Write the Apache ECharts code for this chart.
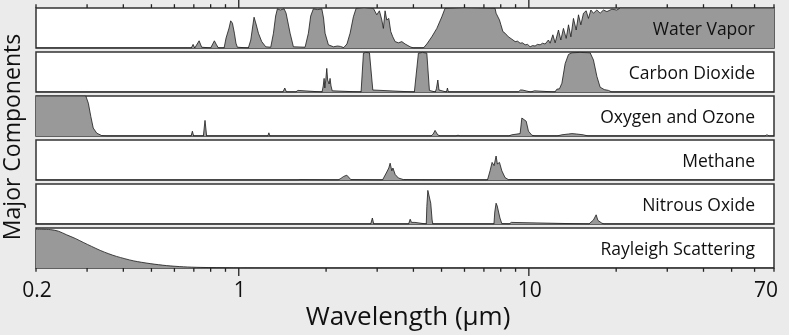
<!DOCTYPE html>
<html>
<head>
<meta charset="utf-8">
<script src="https://cdn.jsdelivr.net/npm/echarts@6/dist/echarts.min.js"></script>
<style>
  html, body { margin: 0; padding: 0; background: #ebebeb; }
  #chart { width: 789px; height: 335px; }
</style>
</head>
<body>
<div id="chart"></div>
<script>
// Panel names, top to bottom
const components = ['Water Vapor', 'Carbon Dioxide', 'Oxygen and Ozone', 'Methane', 'Nitrous Oxide', 'Rayleigh Scattering'];

// Absorption spectra: [wavelength (µm), relative absorption 0..1]
const waterVapor = [
  [0.2, 0], [0.585, 0], [0.594, 0.03], [0.603, 0], [0.648, 0], [0.653, 0.02], [0.658, 0],
  [0.686, 0], [0.696, 0.09], [0.705, 0], [0.715, 0.02], [0.73, 0.18], [0.745, 0.02],
  [0.8, 0], [0.812, 0.05], [0.824, 0.18], [0.838, 0.08], [0.851, 0],
  [0.89, 0], [0.904, 0.25], [0.914, 0.27], [0.926, 0.5], [0.938, 0.68], [0.951, 0.62],
  [0.966, 0.37], [0.978, 0.12], [0.989, 0.02], [1.079, 0], [1.1, 0.2], [1.115, 0.5],
  [1.129, 0.77], [1.147, 0.6], [1.169, 0.37], [1.2, 0.16], [1.239, 0.03], [1.289, 0.02],
  [1.317, 0.37], [1.34, 0.8], [1.359, 0.98], [1.39, 0.95], [1.433, 0.98], [1.456, 0.87],
  [1.503, 0.37], [1.543, 0.03], [1.693, 0.02], [1.738, 0.37], [1.77, 0.8], [1.808, 0.98],
  [1.87, 0.96], [1.933, 0.98], [1.96, 0.75], [1.984, 0.37], [2.037, 0.08], [2.12, 0.03],
  [2.188, 0.05], [2.21, 0.02], [2.24, 0.04], [2.3, 0.01], [2.36, 0.1], [2.42, 0.37],
  [2.484, 0.78], [2.538, 0.99], [2.7, 1], [2.911, 0.99], [2.951, 0.91], [2.991, 0.83],
  [3.054, 0.93], [3.113, 0.7], [3.152, 0.49], [3.194, 0.93], [3.238, 0.7], [3.29, 0.74],
  [3.342, 0.41], [3.396, 0.28], [3.46, 0.16], [3.552, 0.13], [3.648, 0.16], [3.746, 0.1],
  [3.898, 0.03], [4.0, 0], [4.33, 0], [4.45, 0.1], [4.628, 0.28], [4.817, 0.49],
  [5.012, 0.78], [5.14, 0.99], [6.0, 1], [7.65, 0.99], [7.71, 0.87], [7.79, 0.9],
  [7.92, 0.7], [8.01, 0.58], [8.14, 0.41], [8.21, 0.45], [8.28, 0.37], [8.4, 0.33],
  [8.5, 0.28], [8.62, 0.3], [8.74, 0.22], [8.85, 0.24], [8.97, 0.16], [9.15, 0.17],
  [9.33, 0.12], [9.5, 0.13], [9.71, 0.08], [9.9, 0.09], [10.1, 0.03], [10.3, 0.06],
  [10.51, 0.05], [10.7, 0.09], [10.94, 0.08], [11.15, 0.12], [11.38, 0.1], [11.68, 0.2],
  [11.84, 0.12], [12.1, 0.33], [12.32, 0.13], [12.65, 0.45], [12.89, 0.2], [13.16, 0.49],
  [13.45, 0.24], [13.7, 0.58], [13.96, 0.28], [14.25, 0.74], [14.56, 0.45], [14.83, 0.83],
  [15.11, 0.58], [15.43, 0.87], [15.76, 0.93], [16.05, 0.74], [16.36, 0.95], [16.7, 0.87],
  [17.16, 0.95], [17.61, 0.87], [18.08, 0.95], [18.58, 0.91], [19.33, 0.97], [20.11, 0.95],
  [20.64, 1], [70, 1]
];

const carbonDioxide = [
  [0.2, 0], [1.42, 0], [1.441, 0.1], [1.46, 0], [1.57, 0], [1.58, 0.04], [1.6, 0.04], [1.61, 0],
  [1.937, 0], [1.955, 0.15], [1.969, 0.34], [1.98, 0.1], [1.995, 0.3], [2.011, 0.59],
  [2.025, 0.3], [2.037, 0.3], [2.05, 0.2], [2.064, 0.34], [2.08, 0.15], [2.1, 0.03], [2.12, 0],
  [2.64, 0], [2.656, 0.05], [2.69, 0.97], [2.74, 0.99], [2.77, 0.96], [2.822, 0.98],
  [2.898, 0.05], [2.92, 0], [4.03, 0], [4.054, 0.02], [4.162, 0.97], [4.3, 0.99],
  [4.45, 0.97], [4.542, 0.04], [4.56, 0], [4.76, 0], [4.8, 0.08], [4.856, 0.3], [4.9, 0.05],
  [4.945, 0], [5.2, 0], [5.24, 0.1], [5.28, 0], [9.2, 0], [9.35, 0.05], [9.5, 0.05], [9.6, 0],
  [10.15, 0], [10.3, 0.04], [10.45, 0.03], [10.55, 0], [12.3, 0], [12.49, 0.07], [12.75, 0.08],
  [13.0, 0.22], [13.34, 0.71], [13.7, 0.94], [14.07, 0.98], [15, 0.99], [16.27, 0.98],
  [16.7, 0.8], [17.16, 0.39], [17.61, 0.12], [18.2, 0.06], [18.81, 0.04], [19.33, 0], [70, 0]
];

const oxygenOzone = [
  [0.2, 1], [0.297, 1], [0.303, 0.82], [0.309, 0.49], [0.315, 0.2], [0.324, 0.07],
  [0.337, 0.01], [0.35, 0], [0.685, 0], [0.692, 0.12], [0.699, 0], [0.755, 0], [0.765, 0.39],
  [0.775, 0], [1.26, 0], [1.27, 0.08], [1.28, 0], [3.25, 0], [3.27, 0.03], [3.29, 0],
  [4.6, 0], [4.68, 0.05], [4.75, 0.14], [4.85, 0.03], [4.95, 0], [5.6, 0], [5.7, 0.02],
  [5.8, 0], [8.5, 0], [8.74, 0.03], [9.33, 0.06], [9.46, 0.45], [9.58, 0.45], [9.79, 0.37],
  [9.97, 0.12], [10.24, 0.02], [10.5, 0], [12.5, 0], [13.0, 0.03], [13.7, 0.05],
  [14.07, 0.06], [14.6, 0.05], [15.4, 0.03], [16, 0], [65, 0], [66.2, 0.03], [67.5, 0], [70, 0]
];

const methane = [
  [0.2, 0], [1.6, 0], [1.627, 0.01], [1.65, 0], [2.2, 0], [2.25, 0.04], [2.3, 0.09],
  [2.358, 0.12], [2.39, 0.1], [2.434, 0.01], [2.45, 0], [3.13, 0], [3.152, 0.02],
  [3.238, 0.2], [3.29, 0.3], [3.325, 0.42], [3.37, 0.23], [3.4, 0.3], [3.46, 0.14],
  [3.55, 0.05], [3.696, 0.01], [3.75, 0], [6.5, 0], [6.53, 0.02], [6.56, 0], [7.2, 0],
  [7.26, 0.02], [7.35, 0.23], [7.47, 0.44], [7.59, 0.36], [7.71, 0.6], [7.79, 0.4],
  [7.92, 0.44], [8.07, 0.23], [8.28, 0.06], [8.5, 0.01], [8.6, 0], [70, 0]
];

const nitrousOxide = [
  [0.2, 0], [2.85, 0], [2.888, 0.15], [2.92, 0], [3.85, 0], [3.898, 0.12], [3.94, 0.04],
  [4.05, 0.04], [4.1, 0], [4.43, 0], [4.45, 0.44], [4.485, 0.84], [4.542, 0.84],
  [4.59, 0.52], [4.64, 0.1], [4.667, 0], [7.58, 0], [7.63, 0.3], [7.71, 0.52], [7.78, 0.45],
  [7.86, 0.44], [7.95, 0.15], [8.07, 0.01], [8.55, 0], [8.6, 0.04], [8.7, 0.04], [8.75, 0],
  [16.1, 0], [16.27, 0.04], [16.7, 0.1], [17.06, 0.23], [17.3, 0.09], [17.86, 0.02],
  [18.2, 0], [70, 0]
];

const rayleigh = [
  [0.2, 0.97], [0.224, 0.96], [0.239, 0.92], [0.255, 0.83], [0.273, 0.74], [0.291, 0.64],
  [0.311, 0.54], [0.333, 0.44], [0.355, 0.36], [0.379, 0.29], [0.433, 0.18], [0.495, 0.11],
  [0.564, 0.06], [0.644, 0.03], [0.736, 0.015], [0.958, 0.005], [1.2, 0], [70, 0]
];

const spectra = [waterVapor, carbonDioxide, oxygenOzone, methane, nitrousOxide, rayleigh];

// Wavelength axis: long ticks at the decades, short ticks elsewhere
const decadeTicks = [1, 10];
const shortTicks = [0.2, 0.3, 0.4, 0.5, 0.6, 0.7, 0.8, 0.9, 2, 3, 4, 5, 6, 7, 8, 9, 20, 30, 40, 50, 60, 70];
const labelValues = [0.2, 1, 10, 70];
const tickLabels = ['0.2', '1', '10', '70'];
const xTitle = 'Wavelength (µm)';
const yTitle = 'Major Components';

const FONT = '"Open Sans", "Noto Sans", sans-serif';
const LEFT = 36, RIGHT = 774, TOP = 8, PANEL_H = 40, STEP = 44;
const N = spectra.length;
const LONG_TICK = 8, SHORT_TICK = 3.8;
const TICK_STYLE = { stroke: '#222222', lineWidth: 1.3 };

const chart = echarts.init(document.getElementById('chart'), null, { renderer: 'canvas' });

const grids = [], xAxes = [], yAxes = [], series = [], graphics = [];

spectra.forEach((data, i) => {
  const top = TOP + STEP * i;
  grids.push({
    left: LEFT, width: RIGHT - LEFT, top: top, height: PANEL_H,
    show: true, backgroundColor: '#ffffff', borderColor: '#333333', borderWidth: 1.5
  });
  xAxes.push({
    type: 'log', logBase: 10, min: 0.2, max: 70, gridIndex: i,
    axisLine: { show: false }, axisTick: { show: false }, axisLabel: { show: false },
    splitLine: { show: false }
  });
  yAxes.push({
    type: 'value', min: 0, max: 1, gridIndex: i, show: false, splitLine: { show: false }
  });
  series.push({
    type: 'line', name: components[i], xAxisIndex: i, yAxisIndex: i, data: data,
    symbol: 'none', smooth: i === 5 ? 0.3 : false, clip: true, silent: true,
    lineStyle: { color: '#1a1a1a', width: 0.8 },
    areaStyle: { color: '#999999', opacity: 1 },
    z: 2
  });
  graphics.push({
    type: 'text', right: 789 - 755, top: top + PANEL_H / 2 + 2.5 - 12,
    style: { text: components[i], font: '17.5px ' + FONT, fill: '#111111',
             textVerticalAlign: 'top', lineHeight: 24 },
    z: 10
  });
});

// Tick marks under the bottom panel, at wavelength positions through the axis scale
const tickData = decadeTicks.map(v => [v, 1]).concat(shortTicks.map(v => [v, 0]));

series.push({
  type: 'custom', coordinateSystem: 'cartesian2d',
  xAxisIndex: N - 1, yAxisIndex: N - 1, data: tickData,
  clip: false, silent: true, z: 5,
  renderItem: function (params, api) {
    const p = api.coord([api.value(0), 0]);
    const len = api.value(1) === 1 ? LONG_TICK : SHORT_TICK;
    return { type: 'line', shape: { x1: p[0], y1: p[1], x2: p[0], y2: p[1] + len }, style: TICK_STYLE };
  }
});

// Tick labels under the bottom panel
series.push({
  type: 'custom', coordinateSystem: 'cartesian2d', xAxisIndex: N - 1, yAxisIndex: N - 1,
  data: labelValues.map((v, k) => [v, 0, k]), clip: false, silent: true, z: 5,
  renderItem: function (params, api) {
    const p = api.coord([api.value(0), 0]);
    const k = api.value(2);
    const last = k === tickLabels.length - 1;
    return {
      type: 'text',
      x: last ? p[0] + 4 : p[0] + 1, y: p[1] + 23,
      style: { text: tickLabels[k], font: '21px ' + FONT, fill: '#111111',
               align: last ? 'right' : 'center', verticalAlign: 'middle' }
    };
  }
});

graphics.push({
  type: 'text', x: 408, y: 318,
  style: { text: xTitle, font: '26px ' + FONT, fill: '#111111', align: 'center', verticalAlign: 'middle' }
});
graphics.push({
  type: 'text', x: 13, y: 137, rotation: Math.PI / 2,
  style: { text: yTitle, font: '23px ' + FONT, fill: '#111111', align: 'center', verticalAlign: 'middle' }
});

chart.setOption({
  backgroundColor: '#ebebeb',
  animation: false,
  grid: grids,
  xAxis: xAxes,
  yAxis: yAxes,
  series: series,
  graphic: graphics
});

// Tick marks above the top panel, positioned with the top panel's wavelength scale
const topTicks = tickData.map(function (d) {
  const x = chart.convertToPixel({ xAxisIndex: 0 }, d[0]);
  const y = chart.convertToPixel({ yAxisIndex: 0 }, 1);
  const len = d[1] === 1 ? LONG_TICK : SHORT_TICK;
  return { type: 'line', silent: true, z: 20, shape: { x1: x, y1: y, x2: x, y2: y - len }, style: TICK_STYLE };
});
chart.setOption({ graphic: graphics.concat(topTicks) });
</script>
</body>
</html>
